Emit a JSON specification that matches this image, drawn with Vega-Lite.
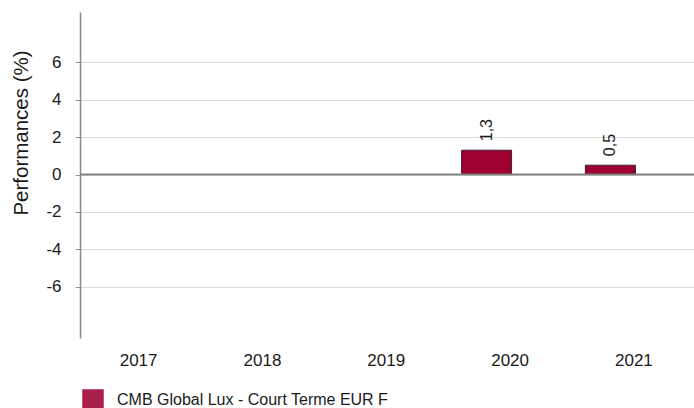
{
  "$schema": "https://vega.github.io/schema/vega-lite/v6.json",
  "autosize": {"type": "none"},
  "padding": {"left": 80, "top": 12, "right": 0, "bottom": 70},
  "width": 614,
  "height": 326,
  "background": "white",
  "config": {
    "font": "Liberation Sans",
    "view": {"stroke": null},
    "locale": {"number": {"decimal": ",", "thousands": ".", "grouping": [3], "currency": ["", " €"], "minus": "-"}}
  },
  "data": {
    "values": [
      {"year": 2020, "performance": 1.3, "fund": "CMB Global Lux - Court Terme EUR F"},
      {"year": 2021, "performance": 0.5, "fund": "CMB Global Lux - Court Terme EUR F"}
    ]
  },
  "layer": [
    {
      "mark": {"type": "bar", "orient": "vertical", "width": 50, "xOffset": -23, "stroke": "#3a2226", "strokeWidth": 1},
      "encoding": {
        "x": {
          "field": "year", "type": "quantitative",
          "scale": {"domain": [2016.571, 2021.449], "nice": false, "zero": false},
          "axis": {
            "values": [2017, 2018, 2019, 2020, 2021], "format": "d", "title": null,
            "domain": false, "ticks": false, "grid": false, "labelFlush": false, "labelOverlap": false,
            "labelFontSize": 17, "labelColor": "#1a1a1a", "labelPadding": 14
          }
        },
        "y": {
          "field": "performance", "type": "quantitative",
          "scale": {"domain": [-8.75, 8.7], "nice": false, "zero": false},
          "axis": {
            "values": [-6, -4, -2, 0, 2, 4, 6], "title": "Performances (%)",
            "grid": true, "gridColor": "#dcdcdc", "gridWidth": 1,
            "domainColor": "#888888", "domainWidth": 1.5,
            "tickColor": "#999999", "tickSize": 5, "tickWidth": 1,
            "labelFontSize": 17, "labelColor": "#1a1a1a", "labelPadding": 14,
            "titleFontSize": 20.5, "titleFontWeight": "normal", "titleColor": "#1a1a1a",
            "titleX": -59, "titleY": 120.5, "titleAngle": 270, "titleAlign": "center", "titleBaseline": "middle"
          }
        },
        "color": {
          "field": "fund", "type": "nominal",
          "scale": {"range": ["#9e0031"]},
          "legend": {
            "title": null, "orient": "none", "legendX": 2, "legendY": 377, "padding": 0,
            "symbolType": "square", "symbolSize": 462, "symbolStrokeWidth": 0, "symbolOpacity": 0.88,
            "labelFontSize": 16, "labelColor": "#1a1a1a", "labelOffset": 13, "labelLimit": 400
          }
        }
      }
    },
    {
      "mark": {"type": "text", "angle": 270, "align": "left", "baseline": "middle", "dx": 9, "xOffset": -23, "fontSize": 16, "color": "#1a1a1a"},
      "encoding": {
        "x": {"field": "year", "type": "quantitative"},
        "y": {"field": "performance", "type": "quantitative"},
        "text": {"field": "performance", "type": "quantitative", "format": ".1f"}
      }
    },
    {
      "mark": {"type": "rule", "color": "#808080", "strokeWidth": 1.5},
      "encoding": {"y": {"datum": 0, "type": "quantitative"}}
    }
  ]
}
